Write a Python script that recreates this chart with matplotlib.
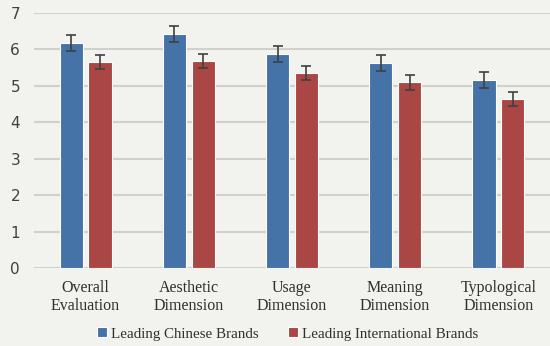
import matplotlib.pyplot as plt
import numpy as np

categories = ['Overall\nEvaluation', 'Aesthetic\nDimension', 'Usage\nDimension',
              'Meaning\nDimension', 'Typological\nDimension']
chinese = [6.18, 6.43, 5.88, 5.63, 5.17]
chinese_err = [0.22, 0.22, 0.22, 0.22, 0.22]
international = [5.66, 5.69, 5.35, 5.10, 4.64]
international_err = [0.20, 0.19, 0.20, 0.20, 0.20]
series_names = ['Leading Chinese Brands', 'Leading International Brands']

bg = '#F2F2EE'
blue = '#4572A7'
red = '#AA4643'

fig = plt.figure(figsize=(5.5, 3.46), dpi=100)
fig.patch.set_facecolor(bg)
ax = fig.add_axes([34/550, (346-268)/346, 516/550, 255/346])
ax.set_facecolor(bg)

x = np.arange(len(categories))
w = 0.225
off = 0.14
err_kw = dict(ecolor='#404040', elinewidth=1.2, capsize=3.5, capthick=1.2)
ax.bar(x - off, chinese, w, yerr=chinese_err, color=blue, edgecolor='white',
       linewidth=0.8, error_kw=err_kw, label=series_names[0], zorder=3)
ax.bar(x + off, international, w, yerr=international_err, color=red, edgecolor='white',
       linewidth=0.8, error_kw=err_kw, label=series_names[1], zorder=3)

ax.set_xlim(-0.5, len(categories) - 0.5)
ax.set_ylim(0, 7)
ax.set_yticks(range(0, 8))
ax.yaxis.grid(True, color='#D0D0CC', linewidth=1.5, zorder=0)
ax.set_axisbelow(True)
for s in ax.spines.values():
    s.set_visible(False)
ax.tick_params(axis='both', length=0)
ax.tick_params(axis='y', labelsize=11, labelcolor='#404040', pad=10)
ax.set_xticks(x)
ax.set_xticklabels(categories, family='Liberation Serif', fontsize=11.5,
                   linespacing=1.15, color='#303030')
ax.tick_params(axis='x', pad=9)

leg = fig.legend(loc='center', bbox_to_anchor=(0.523, 1 - 334/346), ncol=2, frameon=False,
                 prop={'family': 'Liberation Serif', 'size': 10.8},
                 handlelength=0.65, handleheight=0.65, handletextpad=0.25,
                 columnspacing=2.0)
for t in leg.get_texts():
    t.set_color('#303030')

fig.savefig('out.png', dpi=100, facecolor=bg)
